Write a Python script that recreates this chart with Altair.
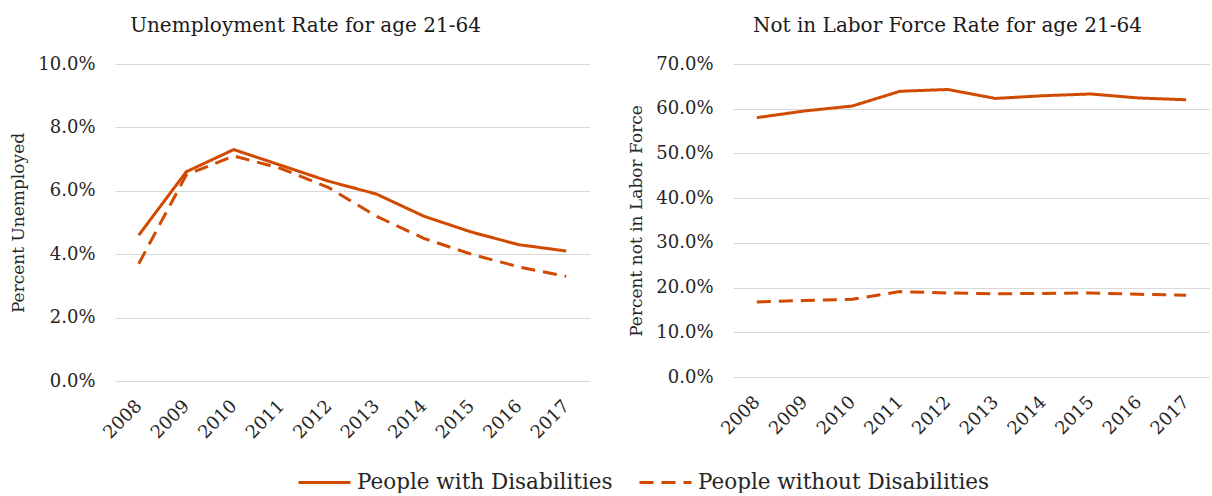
import altair as alt
import pandas as pd

years = [str(y) for y in range(2008, 2018)]
series = ["People with Disabilities", "People without Disabilities"]

unemp_with = [4.6, 6.6, 7.3, 6.8, 6.3, 5.9, 5.2, 4.7, 4.3, 4.1]
unemp_without = [3.7, 6.5, 7.1, 6.7, 6.1, 5.2, 4.5, 4.0, 3.6, 3.3]
nilf_with = [58.0, 59.5, 60.6, 63.9, 64.3, 62.3, 62.9, 63.3, 62.4, 62.0]
nilf_without = [16.8, 17.1, 17.4, 19.1, 18.8, 18.6, 18.7, 18.8, 18.5, 18.3]

unemp_ticks = [0, 0.02, 0.04, 0.06, 0.08, 0.10]
nilf_ticks = [0, 0.1, 0.2, 0.3, 0.4, 0.5, 0.6, 0.7]

ORANGE = "#D04A02"
FONT = "DejaVu Serif"
TEXT = "#262626"


def long_df(a, b):
    rows = []
    for s, vals in zip(series, [a, b]):
        for y, v in zip(years, vals):
            rows.append({"Year": y, "Series": s, "Value": v / 100.0})
    return pd.DataFrame(rows)


LEGEND = alt.Legend(title=None, orient="none", direction="horizontal",
                    legendX=182, legendY=391,
                    symbolType="stroke", symbolSize=2704,
                    symbolStrokeWidth=3, symbolStrokeColor=ORANGE,
                    labelFont=FONT, labelFontSize=21.5,
                    labelColor=TEXT, labelOffset=5,
                    columnPadding=20, labelLimit=400)


def panel(df, title, ytitle, dom, ticks, w, h, tdx, legend):
    return alt.Chart(df).mark_line(strokeWidth=3, color=ORANGE).encode(
        x=alt.X("Year:O", sort=years,
                scale=alt.Scale(type="point", padding=0.5),
                axis=alt.Axis(title=None, labelAngle=-45, labelAlign="right",
                              labelBaseline="middle", labelPadding=22,
                              ticks=False, domain=False, grid=False,
                              labelFont=FONT, labelFontSize=18,
                              labelColor=TEXT)),
        y=alt.Y("Value:Q",
                scale=alt.Scale(domain=dom, nice=False, zero=True),
                axis=alt.Axis(values=ticks, format=".1%", title=ytitle,
                              ticks=False, domain=False, grid=True,
                              gridColor="#d9d9d9", gridWidth=1,
                              labelPadding=20, labelFont=FONT,
                              labelFontSize=18, labelColor=TEXT,
                              titleFont=FONT, titleFontSize=17,
                              titleFontWeight="normal", titleColor=TEXT,
                              titlePadding=10)),
        strokeDash=alt.StrokeDash(
            "Series:N",
            scale=alt.Scale(domain=series, range=[[1, 0], [14, 8]]),
            legend=legend),
    ).properties(
        width=w, height=h,
        title=alt.TitleParams(title, font=FONT, fontSize=20,
                              fontWeight="normal", color="#1a1a1a",
                              anchor="middle", frame="group", offset=19,
                              dx=tdx),
    )


left = panel(long_df(unemp_with, unemp_without),
             "Unemployment Rate for age 21-64", "Percent Unemployed",
             [0, 0.10], unemp_ticks, 475, 317, -47, LEGEND)
right = panel(long_df(nilf_with, nilf_without),
              "Not in Labor Force Rate for age 21-64",
              "Percent not in Labor Force",
              [0, 0.70], nilf_ticks, 477, 313, -24, None)

chart = alt.hconcat(left, right, spacing=143, bounds="flush").resolve_legend(
    strokeDash="independent"
).resolve_scale(strokeDash="independent").properties(
    padding={"left": 9, "top": 16, "right": 0, "bottom": 0},
    background="white",
).configure_view(stroke=None)

chart.save("out.html", embed_options={"renderer": "svg", "actions": False})
